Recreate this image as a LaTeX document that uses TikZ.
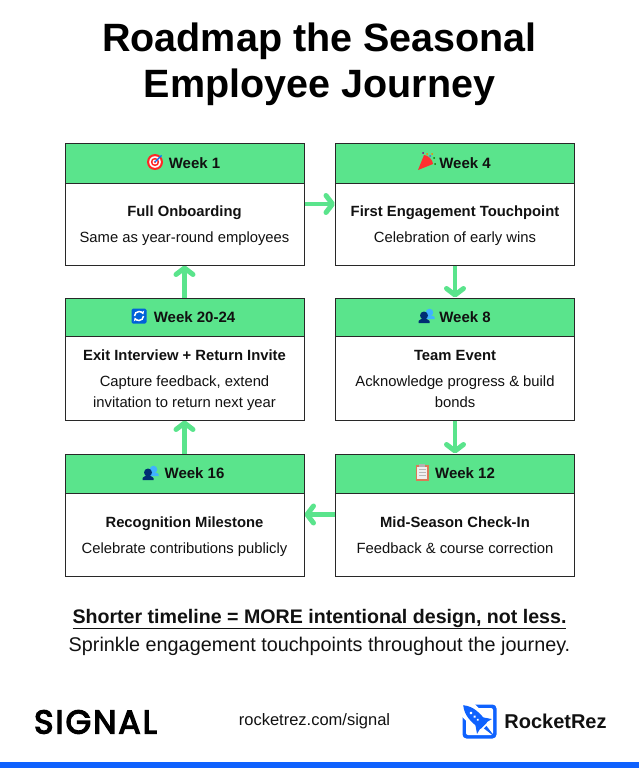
\documentclass[tikz,border=0pt]{standalone}
\usepackage{fontspec}
\setmainfont{Liberation Sans}
\newfontfamily\logofont[FakeBold=4,LetterSpace=6]{Poppins}
\usetikzlibrary{arrows.meta}
\definecolor{sgreen}{RGB}{90,228,140}
\definecolor{sblue}{RGB}{15,98,254}
\definecolor{sink}{RGB}{17,17,17}
\definecolor{sline}{RGB}{40,40,40}
\newcommand{\cardstrut}{\rule{0pt}{17.5pt}}
\tikzset{
  icon/.style={yscale=-1},
  pics/dartboard/.style={code={
    \fill[red!80!pink] (0,0) circle (8);
    \fill[white] (0,0) circle (5.8);
    \fill[red!80!pink] (0,0) circle (4.2);
    \fill[white] (0,0) circle (2.4);
    \fill[red!80!pink] (0,0) circle (1.2);
    \draw[blue!55!cyan,line width=1.2pt] (0,0) -- (6.5,6.5);
  }},
  pics/popper/.style={code={
    \fill[red!75!pink] (-8,-8) -- (-2,7) .. controls (2,7) and (7,2) .. (7,-2) -- cycle;
    \fill[orange] (1,8) circle (1);
    \fill[green!50!black] (8,4) circle (1);
    \fill[blue!70] (4,6) circle (1);
    \fill[violet] (-3,9) circle (1);
    \fill[orange] (6,8) circle (1);
    \fill[green!50!black] (9,-2) circle (1);
  }},
  pics/refresh/.style={code={
    \fill[blue!55!cyan!85!black,rounded corners=1.5pt] (-7.5,-7.5) rectangle (7.5,7.5);
    \draw[white,line width=1.5pt,-{Stealth[length=3.5pt,width=4.5pt]}] (-4.5,0) arc[start angle=180,end angle=20,radius=4.5];
    \draw[white,line width=1.5pt,-{Stealth[length=3.5pt,width=4.5pt]}] (4.5,0) arc[start angle=0,end angle=-160,radius=4.5];
  }},
  pics/people/.style={code={
    \fill[blue!40!cyan!75] (3.5,3.5) circle (3.8);
    \fill[blue!40!cyan!75] (0,-3) -- (0,-1) .. controls (1,1) and (7,1) .. (8.5,-1) -- (8.5,-3) -- cycle;
    \fill[blue!60!cyan!45!black] (-2,0.5) circle (4);
    \fill[blue!60!cyan!45!black] (-7.5,-7) -- (-7.5,-5) .. controls (-6,-2) and (2,-2) .. (3.5,-5) -- (3.5,-7) -- cycle;
  }},
  pics/clipboard/.style={code={
    \fill[brown!70!red!80] (-6.5,-8.5) rectangle (6.5,7);
    \fill[gray!12] (-5,-7) rectangle (5,5.5);
    \fill[gray!60] (-3,5) rectangle (3,8.5);
    \foreach \y in {2.5,-0.5,-3.5} \fill[gray!55] (-3.5,\y) rectangle (3.5,\y+1);
  }},
  pics/rocketmark/.style={code={
    \fill[sblue,rounded corners=4pt] (-17,-17) rectangle (17,17);
    \fill[white,rounded corners=2pt] (-13.5,-13.5) rectangle (13.5,13.5);
    \begin{scope}[rotate=-45]
      \fill[white] (-9,-8) rectangle (9,24);
      \fill[sblue] (-1.8,-8) -- (0,-22) -- (1.8,-8) -- cycle;
      \fill[sblue] (-5,1) -- (-10.5,-7) -- (-4.5,-5.5) -- cycle;
      \fill[sblue] (5,1) -- (10.5,-7) -- (4.5,-5.5) -- cycle;
      \fill[sblue] (0,23) .. controls (6,16) and (7,6) .. (4.5,-6) -- (-4.5,-6) .. controls (-7,6) and (-6,16) .. cycle;
      \fill[white] (0,12) circle (1.7) (0,7) circle (1.4) (0,2.5) circle (1.1);
    \end{scope}
  }}
}
\begin{document}
\begin{tikzpicture}[x=1pt, y=-1pt,
    weekhead/.style={rectangle, draw=sline, line width=1pt, fill=sgreen, minimum width=239pt, text=sink, font=\bfseries\fontsize{15}{17}\selectfont, inner sep=0pt},
    weekbody/.style={rectangle, draw=sline, line width=1pt, fill=white, minimum width=239pt, text=sink, align=center, font=\fontsize{14.8}{21}\selectfont, inner sep=0pt},
    flow/.style={line width=4.5pt, sgreen, -{Straight Barb[length=6.5pt,width=17pt,line width=5pt,round]}},
    headline/.style={text=black, font=\bfseries\fontsize{39.5}{46}\selectfont, align=center}]
\useasboundingbox (0,0) rectangle (639,768);

% Title
\node[headline] (title) at (319.5,64.5) {Roadmap the Seasonal\\Employee Journey};

% Left column
\node[weekhead, minimum height=40pt] (head1) at (184.5,163) {\hspace{20pt}Week 1};
\node[weekbody, minimum height=82pt] (body1) at (184.5,224) {\cardstrut\textbf{Full Onboarding}\\[5pt]Same as year-round employees\strut};
\node[weekhead, minimum height=38pt] (head24) at (184.5,317) {\hspace{20pt}Week 20-24};
\node[weekbody, minimum height=84pt] (body24) at (184.5,378) {\cardstrut\textbf{Exit Interview + Return Invite}\\[5pt]Capture feedback, extend\\invitation to return next year\strut};
\node[weekhead, minimum height=39pt] (head16) at (184.5,473.5) {\hspace{20pt}Week 16};
\node[weekbody, minimum height=83pt] (body16) at (184.5,534.5) {\cardstrut\textbf{Recognition Milestone}\\[5pt]Celebrate contributions publicly\strut};

% Right column
\node[weekhead, minimum height=40pt] (head4) at (455,163) {\hspace{20pt}Week 4};
\node[weekbody, minimum height=82pt] (body4) at (455,224) {\cardstrut\textbf{First Engagement Touchpoint}\\[5pt]Celebration of early wins\strut};
\node[weekhead, minimum height=38pt] (head8) at (455,317) {\hspace{20pt}Week 8};
\node[weekbody, minimum height=84pt] (body8) at (455,378) {\cardstrut\textbf{Team Event}\\[5pt]Acknowledge progress \& build\\bonds\strut};
\node[weekhead, minimum height=39pt] (head12) at (455,473.5) {\hspace{20pt}Week 12};
\node[weekbody, minimum height=83pt] (body12) at (455,534.5) {\cardstrut\textbf{Mid-Season Check-In}\\[5pt]Feedback \& course correction\strut};

% Icons
\pic[icon] at (155,162) {dartboard};
\pic[icon] at (426,162) {popper};
\pic[icon] at (139,316) {refresh};
\pic[icon] at (426,316) {people};
\pic[icon] at (150,473) {people};
\pic[icon] at (422,472) {clipboard};

% Connections
\draw[flow] ([yshift=20pt]body1.east) -- ([yshift=20pt]body4.west);
\draw[flow] (body4.south) -- (head8.north);
\draw[flow] (body8.south) -- (head12.north);
\draw[flow] ([yshift=20pt]body12.west) -- ([yshift=20pt]body16.east);
\draw[flow] (head16.north) -- (body24.south);
\draw[flow] (head24.north) -- (body1.south);

% Closing lines
\node[text=sink, font=\bfseries\fontsize{19.6}{24}\selectfont] (punch) at (319.5,619) {\underline{Shorter timeline = MORE intentional design, not less.}};
\node[text=sink, font=\fontsize{19.8}{24}\selectfont] (sprinkle) at (319.5,646.5) {Sprinkle engagement touchpoints throughout the journey.};

% Footer
\node[text=black, font=\logofont\fontsize{33}{35}\selectfont] (signal) at (95.5,722) {SIGNAL};
\node[text=sink, font=\fontsize{16.5}{20}\selectfont] (url) at (314.5,721) {rocketrez.com/signal};
\pic[icon] at (479.5,721.5) {rocketmark};
\node[text=sink, font=\bfseries\fontsize{20}{22}\selectfont] (rez) at (555.5,721) {RocketRez};
\fill[sblue] (0,762) rectangle (639,768);
\end{tikzpicture}
\end{document}
